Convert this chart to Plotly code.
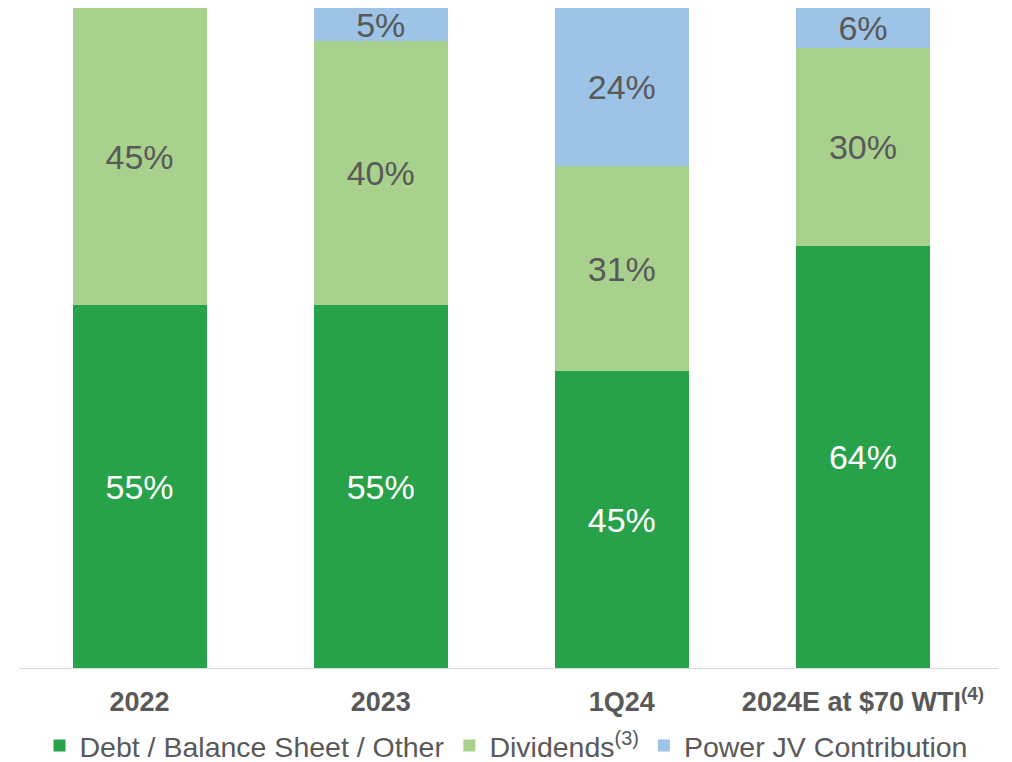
import plotly.graph_objects as go

categories = ["2022", "2023", "1Q24", "2024E at $70 WTI<sup>(4)</sup>"]
debt = [55, 55, 45, 64]
dividends = [45, 40, 31, 30]
power_jv = [0, 5, 24, 6]

series_names = ["Debt / Balance Sheet / Other", "Dividends<sup>(3)</sup>", "Power JV Contribution"]
colors = ["#28A24A", "#A9D18E", "#9DC3E6"]
label_colors = ["#FFFFFF", "#595959", "#595959"]

fig = go.Figure()
for name, vals, col, lc in zip(series_names, [debt, dividends, power_jv], colors, label_colors):
    fig.add_trace(go.Bar(
        x=categories, y=vals, name=name,
        marker=dict(color=col, line=dict(width=0)),
        text=[f"{v}%" if v > 0 else "" for v in vals],
        textposition="inside", insidetextanchor="middle",
        textangle=0, constraintext="none",
        textfont=dict(family="Liberation Sans, Arial, sans-serif", size=34, color=lc),
        width=0.556,
        hoverinfo="skip",
    ))

fig.update_layout(
    barmode="stack",
    width=1012, height=762,
    margin=dict(l=19, r=14, t=8, b=94, autoexpand=False),
    plot_bgcolor="white", paper_bgcolor="white",
    showlegend=True,
    legend=dict(orientation="h", xref="container", x=0.5, xanchor="center",
                yref="container", y=0.021, yanchor="middle",
                font=dict(family="Liberation Sans, Arial, sans-serif", size=28.5, color="#595959"),
                itemwidth=30, traceorder="normal", tracegroupgap=0),
    xaxis=dict(range=[-0.5, 3.56], showline=True, linecolor="#D9D9D9", linewidth=1,
               ticks="outside", ticklen=10, tickcolor="rgba(0,0,0,0)", showgrid=False,
               automargin=False,
               tickfont=dict(family="Liberation Sans, Arial, sans-serif", size=27, color="#595959", weight="bold")),
    yaxis=dict(range=[0, 100], visible=False, showgrid=False, automargin=False),
)

fig.write_html("out.html", config={"displayModeBar": False},
               post_script="document.body.style.margin='0';document.body.style.overflow='hidden';")
